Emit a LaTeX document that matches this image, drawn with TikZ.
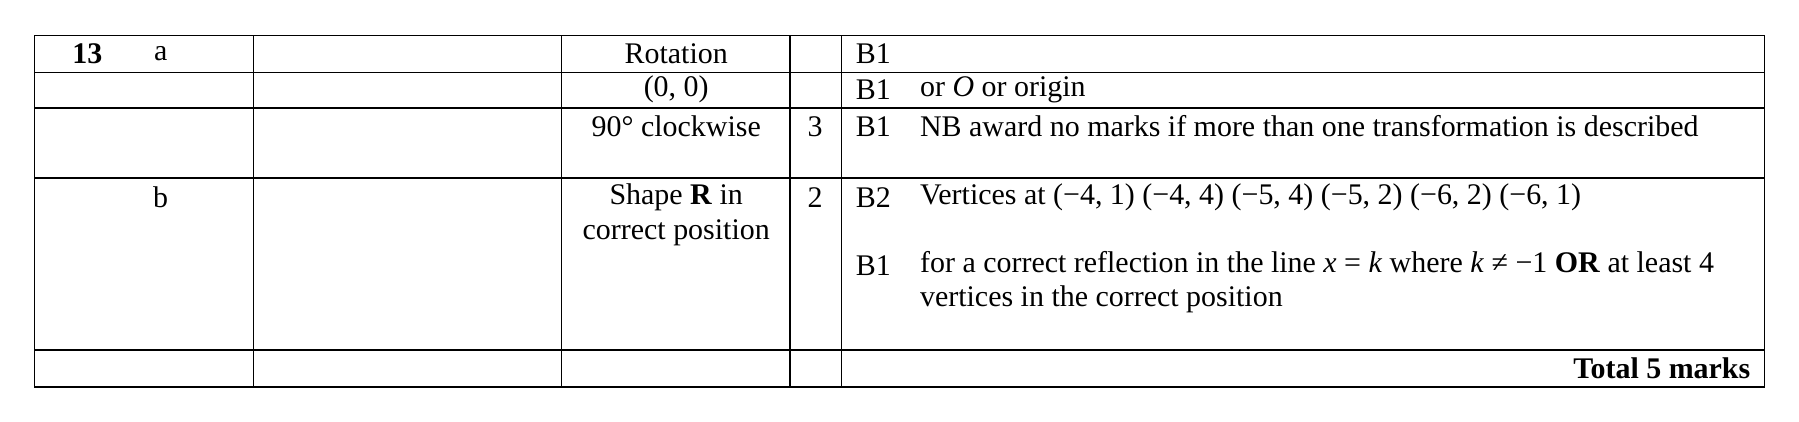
\documentclass[tikz,border=0pt]{standalone}
\usepackage{fontspec}
\setmainfont{Liberation Serif}
\begin{document}
\begin{tikzpicture}[x=0.46pt,y=-0.46pt,
  t/.style={inner sep=0pt,font=\fontsize{12}{13.8}\selectfont},
  tl/.style={t,anchor=west},
  ln/.style={line width=0.6pt}]
\useasboundingbox (0,0) rectangle (1567,367);
\foreach \y in {31,63,94,155,305,337} \draw[ln] (30,\y) -- (1537,\y);
\foreach \x in {30,221,489,688,733,1537} \draw[ln] (\x,31) -- (\x,337);
\node[t] (n13) at (76,47) {\textbf{13}};
\node[t] (a) at (140,47) {a};
\node[t] (rot) at (589,47) {Rotation};
\node[tl] (b1a) at (745,47) {B1};
\node[t] (oo) at (589,78) {(0, 0)};
\node[tl] (b1b) at (745,78) {B1};
\node[tl] (orr) at (801,78) {or \textit{O} or origin};
\node[t] (cw) at (589,110) {90° clockwise};
\node[t] (m3) at (710,110) {3};
\node[tl] (b1c) at (745,110) {B1};
\node[tl] (nb) at (801,110) {NB award no marks if more than one transformation is described};
\node[t] (b) at (140,172) {b};
\node[t,align=center] (sh) at (589,187) {Shape \textbf{R} in\\correct position};
\node[t] (m2) at (710,172) {2};
\node[tl] (b2) at (745,172) {B2};
\node[tl] (vt) at (801,172) {Vertices at (−4, 1) (−4, 4) (−5, 4) (−5, 2) (−6, 2) (−6, 1)};
\node[tl] (b1d) at (745,231) {B1};
\node[tl,align=left] (fc) at (801,246) {for a correct reflection in the line \textit{x} = \textit{k} where \textit{k} ≠ −1 \textbf{OR} at least 4\\vertices in the correct position};
\node[t,anchor=east] (tot) at (1525,321) {\textbf{Total 5 marks}};
\end{tikzpicture}
\end{document}
